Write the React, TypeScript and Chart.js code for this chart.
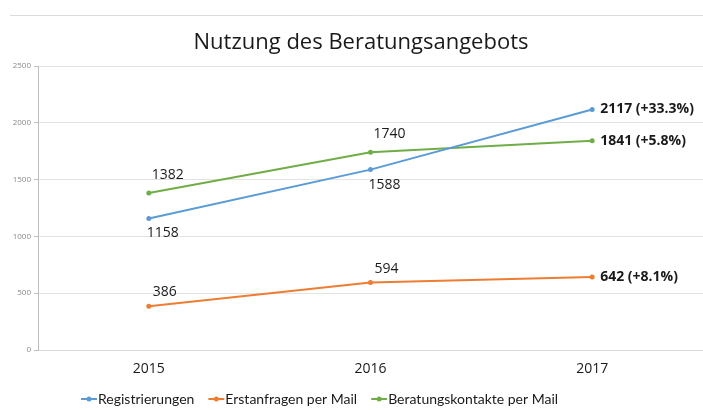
import React, { useEffect, useRef } from "react";
import { Chart, registerables } from "chart.js";

Chart.register(...registerables);

const chartTitle = "Nutzung des Beratungsangebots";
const years = ["2015", "2016", "2017"];
const seriesNames = ["Registrierungen", "Erstanfragen per Mail", "Beratungskontakte per Mail"];
const registrierungen = [1158, 1588, 2117];
const erstanfragen = [386, 594, 642];
const beratungskontakte = [1382, 1740, 1841];
const yMin = 0;
const yMax = 2500;
const yStep = 500;

const colors = ["#5B9BD5", "#ED7D31", "#70AD47"];
const FONT = "'Open Sans', 'Noto Sans', sans-serif";
const LEGEND_FONT = "Lato, 'Open Sans', sans-serif";
const labelDx = [14, 16, 19];
const labelDy = [15, -14, -18];

const decorPlugin = {
  id: "decor",
  beforeDraw(chart: any) {
    const ctx = chart.ctx;
    ctx.save();
    ctx.fillStyle = "#ffffff";
    ctx.fillRect(0, 0, chart.width, chart.height);
    ctx.strokeStyle = "#dcdcdc";
    ctx.lineWidth = 1;
    ctx.beginPath();
    ctx.moveTo(10, 15.5);
    ctx.lineTo(chart.width, 15.5);
    ctx.stroke();
    ctx.fillStyle = "#1a1a1a";
    ctx.font = `22px ${FONT}`;
    ctx.textAlign = "center";
    ctx.textBaseline = "middle";
    ctx.fillText(chartTitle, 361, 43);
    ctx.restore();
  },
  afterDatasetsDraw(chart: any) {
    const ctx = chart.ctx;
    ctx.save();
    ctx.fillStyle = "#1a1a1a";
    ctx.textBaseline = "middle";
    chart.data.datasets.forEach((ds: any, i: number) => {
      const meta = chart.getDatasetMeta(i);
      const n = ds.data.length;
      meta.data.forEach((pt: any, j: number) => {
        const v = ds.data[j];
        if (j === n - 1) {
          const pct = (v / ds.data[j - 1] - 1) * 100;
          ctx.font = `bold 14px ${FONT}`;
          ctx.textAlign = "left";
          ctx.fillText(`${v} (+${pct.toFixed(1)}%)`, pt.x + 8, pt.y);
        } else {
          ctx.font = `14px ${FONT}`;
          ctx.textAlign = "center";
          ctx.fillText(String(v), pt.x + labelDx[i], pt.y + labelDy[i]);
        }
      });
    });
    // legend
    const ly = 399;
    ctx.font = `14px ${LEGEND_FONT}`;
    const lineLen = 16;
    const gap = 14;
    let x = 81;
    chart.data.datasets.forEach((d: any) => {
      ctx.strokeStyle = d.borderColor;
      ctx.lineWidth = 2;
      ctx.beginPath();
      ctx.moveTo(x, ly);
      ctx.lineTo(x + lineLen, ly);
      ctx.stroke();
      ctx.fillStyle = d.borderColor;
      ctx.beginPath();
      ctx.arc(x + lineLen / 2, ly, 2.5, 0, Math.PI * 2);
      ctx.fill();
      ctx.fillStyle = "#1a1a1a";
      ctx.textAlign = "left";
      ctx.fillText(d.label, x + lineLen + 1, ly);
      x += lineLen + 1 + ctx.measureText(d.label).width + gap;
    });
    ctx.restore();
  },
};

export default function App() {
  const ref = useRef<HTMLCanvasElement | null>(null);
  useEffect(() => {
    document.body.style.margin = "0";
    const seriesData = [registrierungen, erstanfragen, beratungskontakte];
    const chart = new Chart(ref.current as HTMLCanvasElement, {
      type: "line",
      data: {
        labels: years,
        datasets: seriesData.map((d, i) => ({
          label: seriesNames[i],
          data: d,
          borderColor: colors[i],
          backgroundColor: colors[i],
          borderWidth: 2,
          pointRadius: 2.5,
          pointBorderWidth: 0,
          tension: 0,
        })),
      },
      options: {
        animation: false,
        responsive: false,
        devicePixelRatio: 1,
        layout: { autoPadding: false, padding: { top: 66, left: 0, right: 0, bottom: 30 } },
        plugins: {
          legend: { display: false },
          title: { display: false },
          tooltip: { enabled: false },
        },
        scales: {
          x: {
            offset: true,
            grid: { display: false, drawTicks: false },
            border: { display: true, color: "#d9d9d9" },
            ticks: { font: { family: FONT, size: 14 }, color: "#1a1a1a", padding: 11 },
            afterFit(scale: any) {
              scale.height = 30;
              scale.paddingLeft = 0;
              scale.paddingRight = 0;
            },
          },
          y: {
            min: yMin,
            max: yMax,
            ticks: {
              stepSize: yStep,
              font: { family: FONT, size: 8 },
              color: "#8a8a8a",
              padding: 3,
              callback: (v: any) => String(v),
            },
            grid: { color: "#e3e3e3", tickColor: "#bfbfbf", tickLength: 4 },
            border: { display: true, color: "#bfbfbf" },
            afterFit(scale: any) {
              scale.width = 38;
            },
          },
        },
      },
      plugins: [decorPlugin],
    } as any);
    return () => chart.destroy();
  }, []);
  return (
    <div style={{ width: 703, height: 410 }}>
      <canvas ref={ref} width={703} height={410} />
    </div>
  );
}
